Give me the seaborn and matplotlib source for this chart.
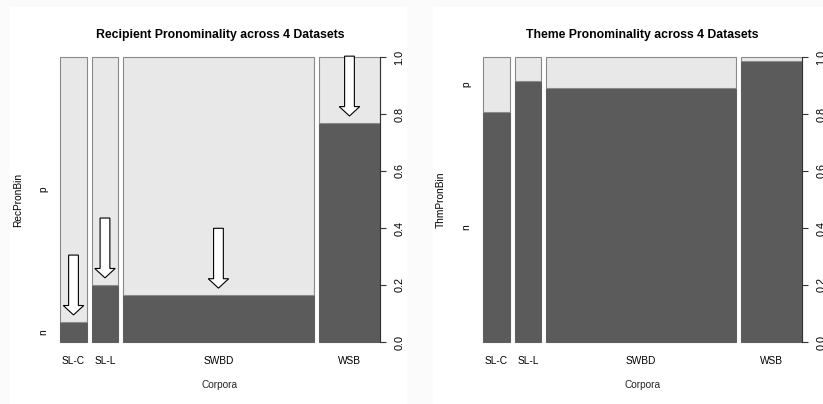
import numpy as np
import matplotlib.pyplot as plt
import matplotlib.patches as mpatches
import seaborn as sns

corpora = ["SL-C", "SL-L", "SWBD", "WSB"]
corpus_share = [0.0885, 0.085, 0.626, 0.20]   # bar widths (share of all data)
rec_n_share = [0.07, 0.20, 0.164, 0.768]      # RecPronBin == "n"
thm_n_share = [0.808, 0.916, 0.89, 0.986]     # ThmPronBin == "n"
levels = ["n", "p"]

sns.set_theme(style="white")
plt.rcParams['font.family'] = ['Liberation Sans', 'DejaVu Sans']
plt.rcParams['text.color'] = 'black'
plt.rcParams['xtick.color'] = 'black'
plt.rcParams['ytick.color'] = 'black'

DARK = '#5b5b5b'
LIGHT = '#e8e8e8'
EDGE = '#5f5f5f'
GAP = 0.0164

fig = plt.figure(figsize=(8.23, 4.04), dpi=100)

#%% background: two white "slides" with soft shadows (pixel coords)
bg = fig.add_axes([0, 0, 1, 1], zorder=-10)
bg.set_xlim(0, 823)
bg.set_ylim(404, 0)
bg.axis('off')
bg.add_patch(mpatches.Rectangle((0, 0), 823, 404, color='#fbfbfb'))
top = np.linspace(0.99, 0.91, 30)[:, None]
bg.imshow(top, cmap='gray', vmin=0, vmax=1, extent=(0, 823, 7, 0), aspect='auto')
left = np.linspace(0.99, 0.94, 30)[None, :]
bg.imshow(left, cmap='gray', vmin=0, vmax=1, extent=(0, 10, 404, 7), aspect='auto')
side = np.linspace(0.45, 0.93, 60) ** 0.8
bg.imshow(side[None, :], cmap='gray', vmin=0, vmax=1, extent=(406, 433, 404, 7), aspect='auto')
bg.add_patch(mpatches.Rectangle((10, 7), 396, 397, color='white'))
bg.add_patch(mpatches.Rectangle((433, 7), 390, 397, color='white'))


def spineplot(ax, n_share, title, ylabel, arrows=False):
    widths = np.array(corpus_share)
    n_share = np.array(n_share)
    lefts = np.concatenate([[0], np.cumsum(widths[:-1] + GAP)])
    centers = lefts + widths / 2

    ax.bar(lefts, n_share, width=widths, align='edge', color=DARK,
           edgecolor=EDGE, linewidth=0.8, clip_on=False)
    ax.bar(lefts, 1 - n_share, bottom=n_share, width=widths, align='edge',
           color=LIGHT, edgecolor='#8a8a8a', linewidth=0.8, clip_on=False)
    ax.set_xlim(0, lefts[-1] + widths[-1])
    ax.set_ylim(0, 1)
    ax.set_facecolor('none')

    for s in ['left', 'top', 'bottom']:
        ax.spines[s].set_visible(False)
    ax.spines['right'].set_visible(True)
    ax.spines['right'].set_color('#333333')
    ax.spines['right'].set_linewidth(0.8)
    ax.spines['right'].set_bounds(0, 1)

    ax.set_xticks(centers, corpora)
    ax.tick_params(axis='x', bottom=False, length=0, pad=10, labelsize=7.3)
    ax.set_yticks(np.arange(0, 1.01, 0.2))
    ax.set_yticklabels([f"{v:.1f}" for v in np.arange(0, 1.01, 0.2)])
    ax.tick_params(axis='y', left=False, labelleft=False, right=True,
                   labelright=True, length=4.3, width=0.8, direction='out',
                   color='#333333', pad=6, labelsize=7.8, labelrotation=90)
    for lab in ax.get_yticklabels():
        lab.set_va('center')

    ax.set_title(title, fontsize=8.8, fontweight='bold', pad=14)
    ax.set_xlabel("Corpora", fontsize=7.3)
    ax.xaxis.set_label_coords(0.5, -0.135)
    ax.text(-0.131, 0.5, ylabel, transform=ax.transAxes, rotation=90,
            ha='center', va='center', fontsize=7.3)

    # level labels at the middle of the first bar's segments
    tr = ax.get_yaxis_transform()
    ax.text(-0.053, n_share[0] / 2, levels[0], transform=tr, rotation=90,
            ha='center', va='center', fontsize=7.3)
    ax.text(-0.053, (n_share[0] + 1) / 2, levels[1], transform=tr, rotation=90,
            ha='center', va='center', fontsize=7.3)

    if arrows:
        for c, s in zip(centers, n_share):
            tip = s + 0.025
            ax.add_patch(mpatches.FancyArrow(
                c, tip + 0.21, 0, -0.21, width=0.032, head_width=0.067,
                head_length=0.033, length_includes_head=True,
                facecolor='white', edgecolor='black', linewidth=0.8,
                clip_on=False, zorder=5))


ax1 = fig.add_axes([60 / 823, 62 / 404, 320 / 823, 285 / 404])
spineplot(ax1, rec_n_share, "Recipient Pronominality across 4 Datasets",
          "RecPronBin", arrows=True)

ax2 = fig.add_axes([483 / 823, 62 / 404, 319 / 823, 285 / 404])
spineplot(ax2, thm_n_share, "Theme Pronominality across 4 Datasets",
          "ThmPronBin")

fig.savefig("out.png", dpi=100)
